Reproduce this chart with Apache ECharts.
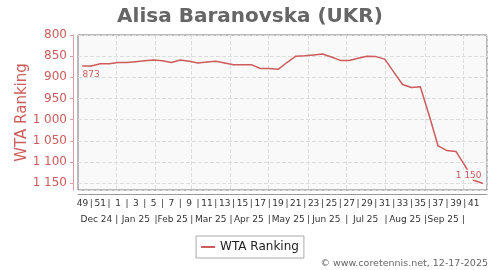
<!DOCTYPE html>
<html>
<head>
<meta charset="utf-8">
<script src="https://cdn.jsdelivr.net/npm/echarts@6/dist/echarts.min.js"></script>
<style>html,body{margin:0;padding:0;background:#fff}#c{width:500px;height:270px}</style>
</head>
<body>
<div id="c"></div>
<script>
// ---- data ----
const titleText = 'Alisa Baranovska (UKR)';
const seriesName = 'WTA Ranking';
// ISO weeks from week 49 of 2024 to week 42 of 2025
const weeks = [49, 50, 51, 52, 1, 2, 3, 4, 5, 6, 7, 8, 9, 10, 11, 12, 13, 14, 15, 16, 17, 18, 19, 20,
  21, 22, 23, 24, 25, 26, 27, 28, 29, 30, 31, 32, 33, 34, 35, 36, 37, 38, 39, 40, 41, 42];
const ranking = [873, 873, 868, 868, 865, 865, 863, 861, 859, 861, 865, 859, 862, 866, 864, 862, 866, 870,
  870, 870, 879, 879, 881, 865, 850, 849, 847, 845, 852, 860, 860, 855, 850, 851, 857, 887, 917, 924, 922,
  990, 1062, 1073, 1075, 1108, 1143, 1150];
const monthLabels = ['Dec 24', 'Jan 25', 'Feb 25', 'Mar 25', 'Apr 25', 'May 25', 'Jun 25', 'Jul 25', 'Aug 25', 'Sep 25'];
const yMin = 800, yMax = 1166, yStep = 50;
const credits = '\u00a9 www.coretennis.net, 12-17-2025';

// ---- helpers ----
const FONT = 'DejaVu Sans';
const RED = '#cd5c5c';
const fmt = v => String(Math.round(v)).replace(/\B(?=(\d{3})+(?!\d))/g, ' ');

// day categories: first week (wk 49) spans Mon Dec 2, 2024 .. Sun Dec 8
const startMs = Date.UTC(2024, 11, 2);
const days = [];
for (let k = 0; k < weeks.length * 7; k++) {
  const d = new Date(startMs + k * 86400000);
  days.push(d.toISOString().slice(0, 10));
}
function dayInfo(s) {
  const y = +s.slice(0, 4), m = +s.slice(5, 7), d = +s.slice(8, 10);
  const dim = new Date(Date.UTC(y, m, 0)).getUTCDate();
  const idx = (y - 2024) * 12 + (m - 12);
  return {y, m, d, dim, idx};
}
function isBoundary(s) {
  if (!s) return false;
  const o = dayInfo(s);
  return o.d === 1 && o.idx >= 1 && o.idx <= monthLabels.length;
}
function monthLabelOf(s) {
  if (!s) return null;
  const o = dayInfo(s);
  if (isBoundary(s)) return '|';
  if (o.idx >= 0 && o.idx < monthLabels.length && o.d === Math.ceil(o.dim / 2)) return monthLabels[o.idx];
  return null;
}

const lineData = ranking.map((v, i) => {
  if (i === 0) return {value: v, label: {show: true, position: 'bottom', align: 'left', distance: 4}};
  if (i === ranking.length - 1) return {value: v, label: {show: true, position: 'top', align: 'right', distance: 3,
    backgroundColor: '#f9f9f9', padding: [1, 1, 0, 1]}};
  return v;
});

const chart = echarts.init(document.getElementById('c'), null, {renderer: 'canvas'});
chart.setOption({
  animation: false,
  textStyle: {fontFamily: FONT},
  title: {
    text: titleText, left: 'center', top: 2,
    textStyle: {fontFamily: FONT, fontSize: 20, fontWeight: 'bold', color: '#666'}
  },
  legend: {
    data: [seriesName], left: 'center', top: 236,
    padding: [5, 5, 5, 5], borderColor: '#aaa', borderWidth: 1, backgroundColor: '#fff',
    icon: 'rect', itemWidth: 14, itemHeight: 2,
    textStyle: {fontFamily: FONT, fontSize: 12, color: '#222'}
  },
  grid: {
    left: 78, right: 13, top: 35, bottom: 80, show: true,
    backgroundColor: '#f9f9f9', borderColor: '#777', borderWidth: 1
  },
  xAxis: [
    {
      type: 'category', data: weeks.map(String), boundaryGap: true, position: 'bottom', offset: 4,
      axisLine: {show: true, lineStyle: {color: '#999'}},
      axisTick: {show: false},
      axisLabel: {interval: 0, margin: 5, fontSize: 9, color: '#333', fontFamily: FONT,
        formatter: (v, i) => i === weeks.length - 1 ? '' : ((+v) % 2 === 1 ? v : '|')},
      splitLine: {show: false}
    },
    {
      type: 'category', data: days, boundaryGap: true, position: 'bottom', offset: 20,
      axisLine: {show: false},
      axisTick: {show: false},
      axisLabel: {interval: (i, v) => monthLabelOf(v) !== null, formatter: v => monthLabelOf(v) || '',
        margin: 5, fontSize: 9, color: '#333', fontFamily: FONT},
      splitLine: {show: true, interval: (i, v) => isBoundary(v), lineStyle: {type: 'dashed', color: '#ddd'}}
    }
  ],
  yAxis: {
    type: 'value', inverse: true, min: yMin, max: yMax, interval: yStep, offset: 5,
    name: seriesName, nameLocation: 'middle', nameGap: 43, nameMoveOverlap: false,
    nameTextStyle: {fontSize: 15, color: RED, fontFamily: FONT},
    axisLine: {show: true, lineStyle: {color: '#dca0a0'}},
    axisTick: {show: true, length: 3, lineStyle: {color: '#dca0a0'}},
    axisLabel: {margin: 6, fontSize: 12, color: RED, fontFamily: FONT, formatter: fmt, showMaxLabel: false},
    splitLine: {show: true, lineStyle: {type: 'dashed', color: '#ddd'}}
  },
  series: [{
    type: 'line', name: seriesName, xAxisIndex: 0, yAxisIndex: 0,
    data: lineData, symbol: 'circle', symbolSize: 1, showSymbol: true,
    lineStyle: {width: 1.5, color: RED}, itemStyle: {color: RED},
    label: {show: false, fontSize: 9, color: RED, fontFamily: FONT, formatter: p => fmt(p.value)}
  }],
  graphic: [{
    type: 'text', right: 12, top: 259,
    style: {text: credits, fontSize: 9.5, fill: '#666', fontFamily: FONT}
  }]
});
</script>
</body>
</html>
